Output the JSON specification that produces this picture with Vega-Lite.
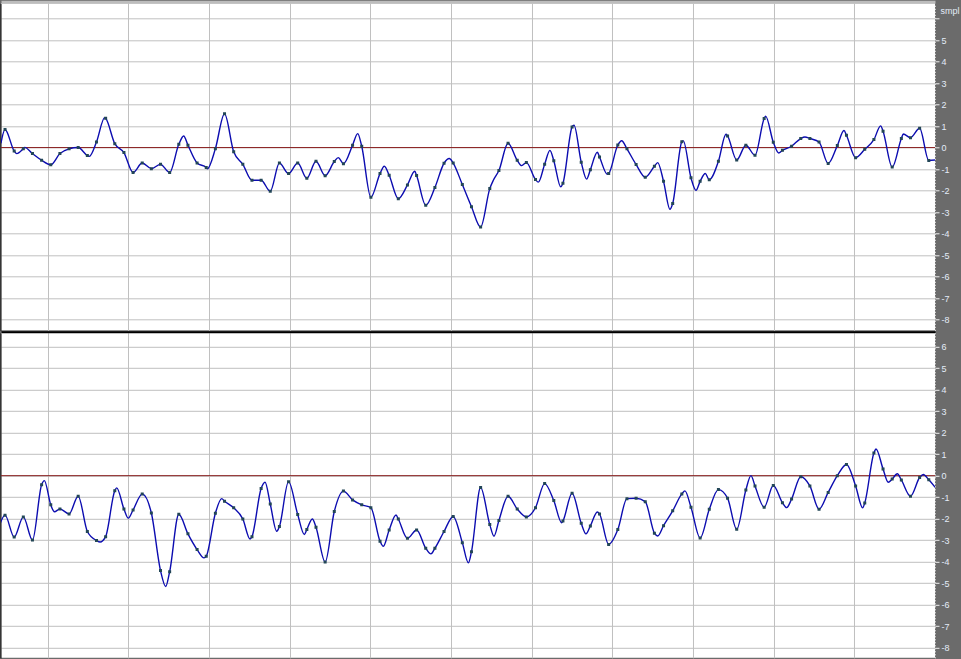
{
"$schema": "https://vega.github.io/schema/vega-lite/v6.json",
"background": "#6b6b6b",
"padding": {"left": 0, "top": 1.3, "right": 0, "bottom": 2},
"spacing": 1.5,
"config": {"view": {"fill": "white", "stroke": null}, "axis": {"gridColor": "#c0c0c0", "gridWidth": 1, "gridOpacity": 1}},
"datasets": {"wave": [
{"c":"L","i":-0.45,"v":0.2,"s":0},{"c":"L","i":0,"v":0.84,"s":1},{"c":"L","i":1,"v":-0.16,"s":1},{"c":"L","i":1.28,"v":-0.28,"s":0},{"c":"L","i":2,"v":-0.05,"s":1},{"c":"L","i":2.15,"v":0.01,"s":0},{"c":"L","i":3,"v":-0.28,"s":1},{"c":"L","i":4,"v":-0.59,"s":1},{"c":"L","i":5,"v":-0.8,"s":1},{"c":"L","i":6,"v":-0.28,"s":1},{"c":"L","i":7,"v":-0.06,"s":1},{"c":"L","i":8,"v":0.0,"s":1},{"c":"L","i":9,"v":-0.37,"s":1},{"c":"L","i":9.22,"v":-0.41,"s":0},{"c":"L","i":10,"v":0.26,"s":1},{"c":"L","i":10.9,"v":1.39,"s":0},{"c":"L","i":11,"v":1.36,"s":1},{"c":"L","i":12,"v":0.18,"s":1},{"c":"L","i":13,"v":-0.23,"s":1},{"c":"L","i":14,"v":-1.16,"s":1},{"c":"L","i":15,"v":-0.72,"s":1},{"c":"L","i":16,"v":-0.98,"s":1},{"c":"L","i":17,"v":-0.78,"s":1},{"c":"L","i":18,"v":-1.16,"s":1},{"c":"L","i":19,"v":0.15,"s":1},{"c":"L","i":19.53,"v":0.54,"s":0},{"c":"L","i":20,"v":0.11,"s":1},{"c":"L","i":21,"v":-0.72,"s":1},{"c":"L","i":22,"v":-0.93,"s":1},{"c":"L","i":22.12,"v":-0.99,"s":0},{"c":"L","i":23,"v":-0.05,"s":1},{"c":"L","i":24,"v":1.57,"s":1},{"c":"L","i":25,"v":-0.2,"s":1},{"c":"L","i":26,"v":-0.78,"s":1},{"c":"L","i":27,"v":-1.52,"s":1},{"c":"L","i":28,"v":-1.52,"s":1},{"c":"L","i":29,"v":-2.03,"s":1},{"c":"L","i":30,"v":-0.72,"s":1},{"c":"L","i":31,"v":-1.21,"s":1},{"c":"L","i":32,"v":-0.72,"s":1},{"c":"L","i":33,"v":-1.43,"s":1},{"c":"L","i":34,"v":-0.64,"s":1},{"c":"L","i":35,"v":-1.31,"s":1},{"c":"L","i":36,"v":-0.65,"s":1},{"c":"L","i":36.44,"v":-0.47,"s":0},{"c":"L","i":37,"v":-0.75,"s":1},{"c":"L","i":38,"v":0.11,"s":1},{"c":"L","i":38.56,"v":0.65,"s":0},{"c":"L","i":39,"v":0.06,"s":1},{"c":"L","i":40,"v":-2.31,"s":1},{"c":"L","i":41,"v":-1.21,"s":1},{"c":"L","i":41.47,"v":-0.87,"s":0},{"c":"L","i":42,"v":-1.29,"s":1},{"c":"L","i":43,"v":-2.38,"s":1},{"c":"L","i":44,"v":-1.74,"s":1},{"c":"L","i":44.8,"v":-1.1,"s":0},{"c":"L","i":45,"v":-1.3,"s":1},{"c":"L","i":46,"v":-2.68,"s":1},{"c":"L","i":47,"v":-1.86,"s":1},{"c":"L","i":48,"v":-0.73,"s":1},{"c":"L","i":48.58,"v":-0.51,"s":0},{"c":"L","i":49,"v":-0.72,"s":1},{"c":"L","i":50,"v":-1.72,"s":1},{"c":"L","i":51,"v":-2.75,"s":1},{"c":"L","i":52,"v":-3.7,"s":1},{"c":"L","i":53,"v":-1.91,"s":1},{"c":"L","i":53.39,"v":-1.52,"s":0},{"c":"L","i":54,"v":-1.07,"s":1},{"c":"L","i":55,"v":0.2,"s":1},{"c":"L","i":56,"v":-0.59,"s":1},{"c":"L","i":56.49,"v":-0.84,"s":0},{"c":"L","i":57,"v":-0.7,"s":1},{"c":"L","i":58,"v":-1.49,"s":1},{"c":"L","i":58.31,"v":-1.61,"s":0},{"c":"L","i":59,"v":-0.78,"s":1},{"c":"L","i":59.58,"v":-0.13,"s":0},{"c":"L","i":60,"v":-0.61,"s":1},{"c":"L","i":60.76,"v":-1.83,"s":0},{"c":"L","i":61,"v":-1.66,"s":1},{"c":"L","i":62,"v":0.96,"s":1},{"c":"L","i":62.21,"v":1.04,"s":0},{"c":"L","i":63,"v":-0.68,"s":1},{"c":"L","i":63.59,"v":-1.47,"s":0},{"c":"L","i":64,"v":-1.03,"s":1},{"c":"L","i":64.76,"v":-0.22,"s":0},{"c":"L","i":65,"v":-0.44,"s":1},{"c":"L","i":65.85,"v":-1.24,"s":0},{"c":"L","i":66,"v":-1.21,"s":1},{"c":"L","i":67,"v":0.12,"s":1},{"c":"L","i":67.42,"v":0.32,"s":0},{"c":"L","i":68,"v":-0.06,"s":1},{"c":"L","i":69,"v":-0.79,"s":1},{"c":"L","i":70,"v":-1.38,"s":1},{"c":"L","i":71,"v":-0.87,"s":1},{"c":"L","i":71.36,"v":-0.7,"s":0},{"c":"L","i":72,"v":-1.57,"s":1},{"c":"L","i":72.7,"v":-2.87,"s":0},{"c":"L","i":73,"v":-2.6,"s":1},{"c":"L","i":74,"v":0.27,"s":1},{"c":"L","i":74.16,"v":0.31,"s":0},{"c":"L","i":75,"v":-1.41,"s":1},{"c":"L","i":75.55,"v":-1.99,"s":0},{"c":"L","i":76,"v":-1.57,"s":1},{"c":"L","i":76.57,"v":-1.21,"s":0},{"c":"L","i":77,"v":-1.5,"s":1},{"c":"L","i":78,"v":-0.64,"s":1},{"c":"L","i":78.83,"v":0.62,"s":0},{"c":"L","i":79,"v":0.54,"s":1},{"c":"L","i":80,"v":-0.58,"s":1},{"c":"L","i":81,"v":0.11,"s":1},{"c":"L","i":82,"v":-0.36,"s":1},{"c":"L","i":83,"v":1.35,"s":1},{"c":"L","i":83.16,"v":1.46,"s":0},{"c":"L","i":84,"v":0.25,"s":1},{"c":"L","i":84.59,"v":-0.25,"s":0},{"c":"L","i":85,"v":-0.13,"s":1},{"c":"L","i":86,"v":0.06,"s":1},{"c":"L","i":87,"v":0.42,"s":1},{"c":"L","i":87.46,"v":0.49,"s":0},{"c":"L","i":88,"v":0.42,"s":1},{"c":"L","i":89,"v":0.26,"s":1},{"c":"L","i":90,"v":-0.74,"s":1},{"c":"L","i":91,"v":0.09,"s":1},{"c":"L","i":91.73,"v":0.79,"s":0},{"c":"L","i":92,"v":0.57,"s":1},{"c":"L","i":93,"v":-0.47,"s":1},{"c":"L","i":94,"v":-0.08,"s":1},{"c":"L","i":95,"v":0.37,"s":1},{"c":"L","i":95.74,"v":1.01,"s":0},{"c":"L","i":96,"v":0.76,"s":1},{"c":"L","i":97,"v":-0.91,"s":1},{"c":"L","i":98,"v":0.42,"s":1},{"c":"L","i":98.22,"v":0.63,"s":0},{"c":"L","i":99,"v":0.46,"s":1},{"c":"L","i":100,"v":0.9,"s":1},{"c":"L","i":101,"v":-0.6,"s":1},{"c":"L","i":101.7,"v":-0.58,"s":0},
{"c":"R","i":-0.55,"v":-2.25,"s":0},{"c":"R","i":0,"v":-1.84,"s":1},{"c":"R","i":1,"v":-2.86,"s":1},{"c":"R","i":2,"v":-1.92,"s":1},{"c":"R","i":3,"v":-3.0,"s":1},{"c":"R","i":4,"v":-0.42,"s":1},{"c":"R","i":4.3,"v":-0.23,"s":0},{"c":"R","i":5,"v":-1.36,"s":1},{"c":"R","i":5.4,"v":-1.68,"s":0},{"c":"R","i":6,"v":-1.55,"s":1},{"c":"R","i":7,"v":-1.78,"s":1},{"c":"R","i":8,"v":-0.96,"s":1},{"c":"R","i":9,"v":-2.6,"s":1},{"c":"R","i":10,"v":-3.02,"s":1},{"c":"R","i":10.39,"v":-3.09,"s":0},{"c":"R","i":11,"v":-2.84,"s":1},{"c":"R","i":12,"v":-0.7,"s":1},{"c":"R","i":12.21,"v":-0.57,"s":0},{"c":"R","i":13,"v":-1.55,"s":1},{"c":"R","i":13.48,"v":-1.98,"s":0},{"c":"R","i":14,"v":-1.6,"s":1},{"c":"R","i":15,"v":-0.86,"s":1},{"c":"R","i":16,"v":-1.74,"s":1},{"c":"R","i":17,"v":-4.42,"s":1},{"c":"R","i":17.57,"v":-5.16,"s":0},{"c":"R","i":18,"v":-4.47,"s":1},{"c":"R","i":19,"v":-1.8,"s":1},{"c":"R","i":20,"v":-2.71,"s":1},{"c":"R","i":21,"v":-3.44,"s":1},{"c":"R","i":21.76,"v":-3.83,"s":0},{"c":"R","i":22,"v":-3.75,"s":1},{"c":"R","i":23,"v":-1.75,"s":1},{"c":"R","i":23.69,"v":-1.07,"s":0},{"c":"R","i":24,"v":-1.19,"s":1},{"c":"R","i":25,"v":-1.5,"s":1},{"c":"R","i":26,"v":-2.02,"s":1},{"c":"R","i":26.79,"v":-2.95,"s":0},{"c":"R","i":27,"v":-2.84,"s":1},{"c":"R","i":28,"v":-0.6,"s":1},{"c":"R","i":28.43,"v":-0.31,"s":0},{"c":"R","i":29,"v":-1.32,"s":1},{"c":"R","i":29.7,"v":-2.59,"s":0},{"c":"R","i":30,"v":-2.37,"s":1},{"c":"R","i":31,"v":-0.28,"s":1},{"c":"R","i":32,"v":-1.81,"s":1},{"c":"R","i":32.73,"v":-2.74,"s":0},{"c":"R","i":33,"v":-2.51,"s":1},{"c":"R","i":33.6,"v":-2.02,"s":0},{"c":"R","i":34,"v":-2.4,"s":1},{"c":"R","i":35,"v":-4.02,"s":1},{"c":"R","i":36,"v":-1.67,"s":1},{"c":"R","i":37,"v":-0.72,"s":1},{"c":"R","i":38,"v":-1.13,"s":1},{"c":"R","i":39,"v":-1.36,"s":1},{"c":"R","i":40,"v":-1.49,"s":1},{"c":"R","i":41,"v":-3.05,"s":1},{"c":"R","i":41.36,"v":-3.29,"s":0},{"c":"R","i":42,"v":-2.53,"s":1},{"c":"R","i":42.75,"v":-1.83,"s":0},{"c":"R","i":43,"v":-2.02,"s":1},{"c":"R","i":44,"v":-2.92,"s":1},{"c":"R","i":45,"v":-2.53,"s":1},{"c":"R","i":46,"v":-3.38,"s":1},{"c":"R","i":46.57,"v":-3.64,"s":0},{"c":"R","i":47,"v":-3.38,"s":1},{"c":"R","i":48,"v":-2.6,"s":1},{"c":"R","i":49,"v":-1.9,"s":1},{"c":"R","i":50,"v":-3.12,"s":1},{"c":"R","i":50.66,"v":-4.06,"s":0},{"c":"R","i":51,"v":-3.54,"s":1},{"c":"R","i":52,"v":-0.55,"s":1},{"c":"R","i":53,"v":-2.28,"s":1},{"c":"R","i":53.46,"v":-2.82,"s":0},{"c":"R","i":54,"v":-2.09,"s":1},{"c":"R","i":55,"v":-0.96,"s":1},{"c":"R","i":56,"v":-1.55,"s":1},{"c":"R","i":57,"v":-1.92,"s":1},{"c":"R","i":58,"v":-1.49,"s":1},{"c":"R","i":59,"v":-0.37,"s":1},{"c":"R","i":60,"v":-1.16,"s":1},{"c":"R","i":60.86,"v":-2.19,"s":0},{"c":"R","i":61,"v":-2.11,"s":1},{"c":"R","i":62,"v":-0.82,"s":1},{"c":"R","i":63,"v":-2.22,"s":1},{"c":"R","i":63.52,"v":-2.71,"s":0},{"c":"R","i":64,"v":-2.34,"s":1},{"c":"R","i":64.76,"v":-1.69,"s":0},{"c":"R","i":65,"v":-1.78,"s":1},{"c":"R","i":66,"v":-3.2,"s":1},{"c":"R","i":67,"v":-2.51,"s":1},{"c":"R","i":68,"v":-1.07,"s":1},{"c":"R","i":69,"v":-1.05,"s":1},{"c":"R","i":70,"v":-1.21,"s":1},{"c":"R","i":71,"v":-2.68,"s":1},{"c":"R","i":71.36,"v":-2.81,"s":0},{"c":"R","i":72,"v":-2.33,"s":1},{"c":"R","i":73,"v":-1.64,"s":1},{"c":"R","i":74,"v":-0.85,"s":1},{"c":"R","i":74.34,"v":-0.71,"s":0},{"c":"R","i":75,"v":-1.47,"s":1},{"c":"R","i":76,"v":-2.9,"s":1},{"c":"R","i":77,"v":-1.57,"s":1},{"c":"R","i":78,"v":-0.65,"s":1},{"c":"R","i":79,"v":-1.05,"s":1},{"c":"R","i":80,"v":-2.5,"s":1},{"c":"R","i":81,"v":-0.67,"s":1},{"c":"R","i":81.56,"v":0.0,"s":0},{"c":"R","i":82,"v":-0.48,"s":1},{"c":"R","i":83,"v":-1.47,"s":1},{"c":"R","i":84,"v":-0.46,"s":1},{"c":"R","i":85,"v":-1.26,"s":1},{"c":"R","i":85.46,"v":-1.49,"s":0},{"c":"R","i":86,"v":-1.09,"s":1},{"c":"R","i":87,"v":-0.05,"s":1},{"c":"R","i":88,"v":-0.48,"s":1},{"c":"R","i":89,"v":-1.56,"s":1},{"c":"R","i":90,"v":-0.78,"s":1},{"c":"R","i":91,"v":0.0,"s":1},{"c":"R","i":92,"v":0.52,"s":1},{"c":"R","i":93,"v":-0.48,"s":1},{"c":"R","i":93.77,"v":-1.5,"s":0},{"c":"R","i":94,"v":-1.27,"s":1},{"c":"R","i":95,"v":1.05,"s":1},{"c":"R","i":95.23,"v":1.24,"s":0},{"c":"R","i":96,"v":0.31,"s":1},{"c":"R","i":96.57,"v":-0.31,"s":0},{"c":"R","i":97,"v":-0.16,"s":1},{"c":"R","i":97.56,"v":0.09,"s":0},{"c":"R","i":98,"v":-0.2,"s":1},{"c":"R","i":99,"v":-0.96,"s":1},{"c":"R","i":100,"v":-0.09,"s":1},{"c":"R","i":100.4,"v":0.05,"s":0},{"c":"R","i":101,"v":-0.19,"s":1},{"c":"R","i":101.7,"v":-0.54,"s":0}
]},
"vconcat": [
{
"width": 934, "height": 327,
"data": {"name": "wave"},
"layer": [
{"data": {"values": [{}]}, "mark": {"type": "rule", "color": "#8b2020", "strokeWidth": 1},
 "encoding": {"y": {"datum": 0, "type": "quantitative", "scale": {"domain": [-8.5, 6.71], "nice": false, "zero": false}, "axis": null}}},
{"transform": [{"filter": "datum.c == 'L'"}],
 "mark": {"type": "line", "interpolate": "monotone", "color": "#0c0cb0", "strokeWidth": 1.4, "clip": true},
 "encoding": {
  "x": {"field": "i", "type": "quantitative", "scale": {"domain": [-0.44, 101.68], "nice": false, "zero": false},
   "axis": {"orient": "top", "values": [4.67, 13.49, 22.31, 31.13, 39.95, 48.76, 57.58, 66.4, 75.22, 84.04, 92.86], "grid": true, "ticks": false, "labels": false, "title": null, "domain": true, "domainColor": "#bdbdbd", "domainWidth": 3, "offset": 1.5}},
  "y": {"field": "v", "type": "quantitative", "scale": {"domain": [-8.5, 6.71], "nice": false, "zero": false},
   "axis": {"orient": "left", "grid": false, "ticks": false, "labels": false, "title": null, "domain": true, "domainColor": "#000000", "domainWidth": 1, "offset": 0.5, "minExtent": 0, "maxExtent": 0}}
 }},
{"transform": [{"filter": "datum.c == 'L' && datum.s == 1"}],
 "mark": {"type": "square", "size": 9, "color": "#224656", "opacity": 1, "filled": true, "clip": true},
 "encoding": {
  "x": {"field": "i", "type": "quantitative", "scale": {"domain": [-0.44, 101.68], "nice": false, "zero": false},
   "axis": {"orient": "top", "values": [4.67, 13.49, 22.31, 31.13, 39.95, 48.76, 57.58, 66.4, 75.22, 84.04, 92.86], "grid": true, "ticks": false, "labels": false, "title": null, "domain": true, "domainColor": "#bdbdbd", "domainWidth": 3, "offset": 1.5}},
  "y": {"field": "v", "type": "quantitative", "scale": {"domain": [-8.5, 6.71], "nice": false, "zero": false},
   "axis": {"orient": "right", "values": [-8, -7, -6, -5, -4, -3, -2, -1, 0, 1, 2, 3, 4, 5, 6], "grid": true, "ticks": true, "tickColor": "#f0f0f0", "tickSize": 4, "tickWidth": 1, "domain": true, "domainColor": "#e8e8e8", "domainDash": [1, 2], "domainWidth": 1, "labelColor": "#e4ecf8", "labelFont": "Liberation Sans", "labelFontSize": 9, "labelPadding": 2, "labelOverlap": false, "labelBound": false, "labelFlush": false, "labelExpr": "datum.value > 5.5 ? '' : '' + datum.value", "title": "smpl", "titleAngle": 0, "titleX": 5, "titleY": 3, "titleAlign": "left", "titleBaseline": "top", "titleColor": "#e4ecf8", "titleFont": "Liberation Sans", "titleFontSize": 9, "titleFontWeight": "normal", "minExtent": 26, "maxExtent": 26}}
 }}
],
"resolve": {"axis": {"y": "independent"}}
},
{
"width": 934, "height": 325,
"data": {"name": "wave"},
"layer": [
{"data": {"values": [{}]}, "mark": {"type": "rule", "color": "#8b2020", "strokeWidth": 1},
 "encoding": {"y": {"datum": 0, "type": "quantitative", "scale": {"domain": [-8.48, 6.65], "nice": false, "zero": false}, "axis": null}}},
{"transform": [{"filter": "datum.c == 'R'"}],
 "mark": {"type": "line", "interpolate": "monotone", "color": "#0c0cb0", "strokeWidth": 1.4, "clip": true},
 "encoding": {
  "x": {"field": "i", "type": "quantitative", "scale": {"domain": [-0.44, 101.68], "nice": false, "zero": false},
   "axis": {"orient": "top", "values": [4.67, 13.49, 22.31, 31.13, 39.95, 48.76, 57.58, 66.4, 75.22, 84.04, 92.86], "grid": true, "ticks": false, "labels": false, "title": null, "domain": true, "domainColor": "#000000", "domainWidth": 2, "offset": 1}},
  "y": {"field": "v", "type": "quantitative", "scale": {"domain": [-8.48, 6.65], "nice": false, "zero": false},
   "axis": {"orient": "left", "grid": false, "ticks": false, "labels": false, "title": null, "domain": true, "domainColor": "#000000", "domainWidth": 1, "offset": 0.5, "minExtent": 0, "maxExtent": 0}}
 }},
{"transform": [{"filter": "datum.c == 'R' && datum.s == 1"}],
 "mark": {"type": "square", "size": 9, "color": "#224656", "opacity": 1, "filled": true, "clip": true},
 "encoding": {
  "x": {"field": "i", "type": "quantitative", "scale": {"domain": [-0.44, 101.68], "nice": false, "zero": false},
   "axis": {"orient": "top", "values": [4.67, 13.49, 22.31, 31.13, 39.95, 48.76, 57.58, 66.4, 75.22, 84.04, 92.86], "grid": true, "ticks": false, "labels": false, "title": null, "domain": true, "domainColor": "#000000", "domainWidth": 2, "offset": 1}},
  "y": {"field": "v", "type": "quantitative", "scale": {"domain": [-8.48, 6.65], "nice": false, "zero": false},
   "axis": {"orient": "right", "values": [-8, -7, -6, -5, -4, -3, -2, -1, 0, 1, 2, 3, 4, 5, 6], "grid": true, "ticks": true, "tickColor": "#f0f0f0", "tickSize": 4, "tickWidth": 1, "domain": true, "domainColor": "#e8e8e8", "domainDash": [1, 2], "domainWidth": 1, "labelColor": "#e4ecf8", "labelFont": "Liberation Sans", "labelFontSize": 9, "labelPadding": 2, "labelOverlap": false, "labelBound": false, "labelFlush": false, "labelExpr": "'' + datum.value", "title": null, "minExtent": 26, "maxExtent": 26}}
 }}
],
"resolve": {"axis": {"y": "independent"}}
}
]
}
